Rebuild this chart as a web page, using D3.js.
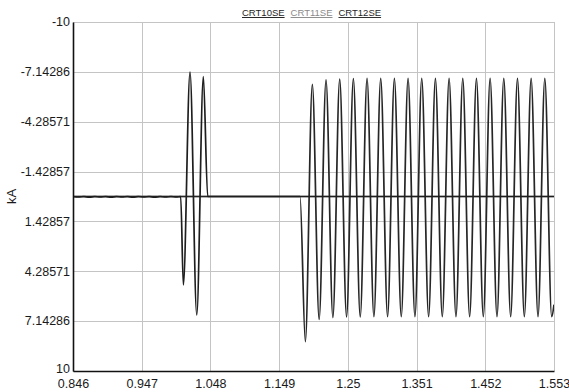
<!DOCTYPE html>
<html>
<head>
<meta charset="utf-8">
<script src="https://cdn.jsdelivr.net/npm/d3@7"></script>
<style>
  html, body { margin: 0; padding: 0; background: #fff; }
  svg { display: block; font-family: "Liberation Sans", Arial, sans-serif; }
  .grid line { stroke: #c4c4c4; stroke-width: 1; shape-rendering: crispEdges; }
  .tick-label { font-size: 12.5px; fill: #1a1a1a; }
  .axis-title { font-size: 13px; fill: #1a1a1a; }
  .legend text { font-size: 9.5px; text-decoration: underline; }
  .trace { fill: none; stroke-width: 1.7; stroke-linejoin: round; }
</style>
</head>
<body>
<svg id="chart" width="569" height="392"></svg>
<script>
(function () {
  'use strict';

  var seriesNames = ['CRT10SE', 'CRT11SE', 'CRT12SE'];
  var seriesColors = ['#1e1e1e', '#8a8a8a', '#262626'];

  var xTicks = [0.846, 0.947, 1.048, 1.149, 1.25, 1.351, 1.452, 1.553];
  var yTicks = [-10, -7.14286, -4.28571, -1.42857, 1.42857, 4.28571, 7.14286, 10];

  // CRT10SE: small noise before the first burst, then back to zero
  var crt10Time = [0.846, 0.854, 0.862, 0.870, 0.878, 0.886, 0.894, 0.902, 0.910, 0.918,
    0.926, 0.934, 0.942, 0.950, 0.958, 0.966, 0.974, 0.982, 0.990, 0.998,
    1.0043, 1.0082, 1.0180, 1.0279, 1.0376, 1.0440, 1.553];
  var crt10Value = [0, 0.03, 0, 0.04, 0, 0.03, 0, 0.04, 0, 0.03,
    0, 0.04, 0, 0.03, 0, 0.04, 0, 0.03, 0, 0.03,
    0, 5.07, -7.13, 6.79, -6.87, 0, 0];

  // CRT11SE: flat
  var crt11Time = [0.846, 1.553];
  var crt11Value = [0, 0];

  // CRT12SE: zero, then sustained oscillation from ~1.18
  var crt12Time = [0.846, 1.1797, 1.1875, 1.1978, 1.2078, 1.2179, 1.2280, 1.2380, 1.2481,
    1.2581, 1.2682, 1.2782, 1.2883, 1.2983, 1.3084, 1.3184, 1.3285, 1.3385, 1.3486,
    1.3586, 1.3687, 1.3787, 1.3888, 1.3988, 1.4089, 1.4189, 1.4290, 1.4390, 1.4491,
    1.4591, 1.4692, 1.4792, 1.4893, 1.4993, 1.5094, 1.5194, 1.5295, 1.5395, 1.5496, 1.553];
  var crt12Value = [0, 0, 8.32, -6.43, 7.04, -6.68, 6.94, -6.73, 6.90,
    -6.76, 6.90, -6.77, 6.89, -6.77, 6.89, -6.77, 6.89, -6.77, 6.89,
    -6.77, 6.89, -6.77, 6.89, -6.77, 6.89, -6.77, 6.89, -6.77, 6.89,
    -6.77, 6.89, -6.77, 6.89, -6.77, 6.89, -6.77, 6.89, -6.77, 6.89, 6.2];

  var margin = { top: 22, right: 15, bottom: 21, left: 73 };
  var outerWidth = 569;
  var outerHeight = 392;

  var chart = d3.select('#chart');

  var x = d3.scaleLinear().domain([0.846, 1.553]).range([margin.left, outerWidth - margin.right]);
  var y = d3.scaleLinear().domain([-10, 10]).range([margin.top, outerHeight - margin.bottom]);

  var zip = function (times, values) {
    return times.map(function (t, i) { return { t: t, v: values[i] }; });
  };
  var series = [
    { name: seriesNames[0], color: seriesColors[0], data: zip(crt10Time, crt10Value) },
    { name: seriesNames[1], color: seriesColors[1], data: zip(crt11Time, crt11Value) },
    { name: seriesNames[2], color: seriesColors[2], data: zip(crt12Time, crt12Value) }
  ];

  // grid
  var grid = chart.append('g').attr('class', 'grid');
  grid.selectAll('.gx')
    .data(xTicks).enter()
    .append('line')
      .attr('x1', function (d) { return Math.round(x(d)) + 0.5; })
      .attr('x2', function (d) { return Math.round(x(d)) + 0.5; })
      .attr('y1', y(-10))
      .attr('y2', y(10));
  grid.selectAll('.gy')
    .data(yTicks).enter()
    .append('line')
      .attr('x1', x(0.846))
      .attr('x2', x(1.553))
      .attr('y1', function (d) { return Math.round(y(d)) + 0.5; })
      .attr('y2', function (d) { return Math.round(y(d)) + 0.5; });

  // traces
  var line = d3.line()
    .x(function (d) { return x(d.t); })
    .y(function (d) { return y(d.v); })
    .curve(d3.curveMonotoneX);

  chart.append('clipPath').attr('id', 'plot-clip')
    .append('rect')
      .attr('x', x(0.846)).attr('y', y(-10))
      .attr('width', x(1.553) - x(0.846)).attr('height', y(10) - y(-10));

  chart.append('g')
    .attr('clip-path', 'url(#plot-clip)')
    .selectAll('path')
    .data([series[1], series[2], series[0]]).enter()
    .append('path')
      .attr('class', 'trace')
      .attr('stroke', function (d) { return d.color; })
      .attr('d', function (d) { return line(d.data); });

  // axes
  var yAxis = d3.axisLeft(y).tickValues(yTicks).tickSize(0).tickPadding(4)
    .tickFormat(function (d) { return String(d); });
  var xAxis = d3.axisBottom(x).tickValues(xTicks).tickSize(0).tickPadding(8)
    .tickFormat(function (d) { return String(d); });

  var gy = chart.append('g')
    .attr('transform', 'translate(' + margin.left + ',0)')
    .call(yAxis);
  var gx = chart.append('g')
    .attr('transform', 'translate(0,' + (outerHeight - margin.bottom) + ')')
    .call(xAxis);

  [gx, gy].forEach(function (g) {
    g.select('.domain').attr('stroke', '#111').attr('stroke-width', 1.6);
    g.selectAll('text')
      .attr('class', 'tick-label')
      .attr('font-family', null)
      .attr('font-size', null);
  });
  gy.selectAll('text')
    .attr('x', -3)
    .attr('dy', function (d) { return d === 10 ? '0.15em' : '0.3em'; });

  chart.append('text')
    .attr('class', 'axis-title')
    .attr('transform', 'translate(16,' + y(0) + ') rotate(-90)')
    .attr('text-anchor', 'middle')
    .text('kA');

  // legend
  var legend = chart.append('g').attr('class', 'legend');
  var lx = 242;
  seriesNames.forEach(function (name, i) {
    var t = legend.append('text')
      .attr('x', lx)
      .attr('y', 16)
      .attr('fill', seriesColors[i])
      .text(name);
    lx += t.node().getComputedTextLength() + 6;
  });
}());
</script>
</body>
</html>
